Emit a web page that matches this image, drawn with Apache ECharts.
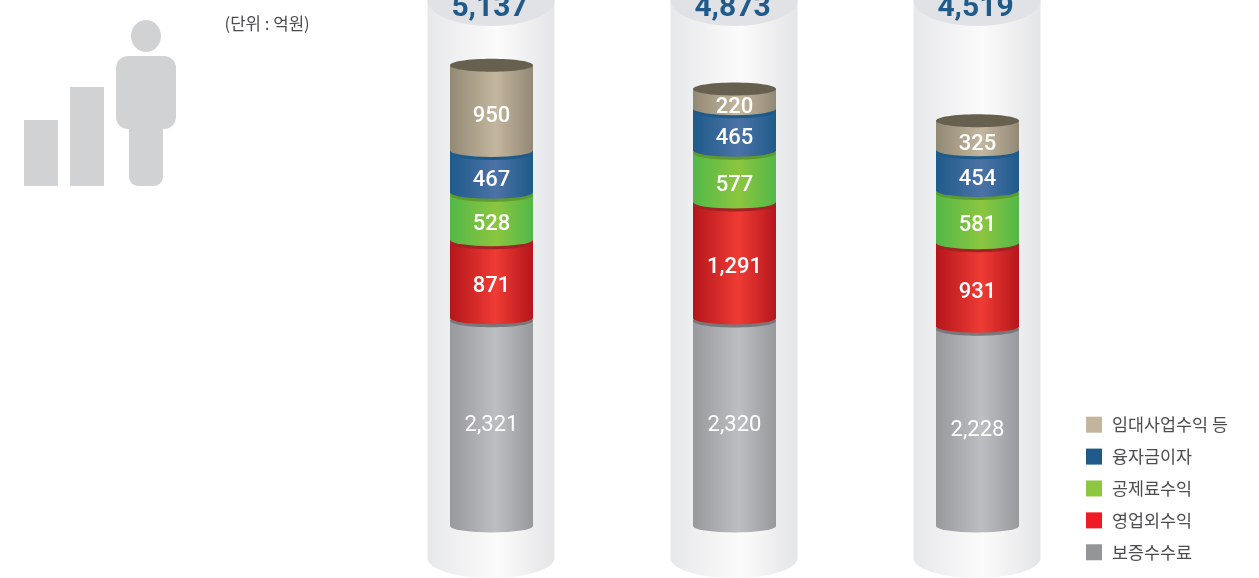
<!DOCTYPE html>
<html>
<head>
<meta charset="utf-8">
<title>수익 구성</title>
<script src="https://cdn.jsdelivr.net/npm/echarts@6/dist/echarts.min.js"></script>
<style>
  html, body { margin: 0; padding: 0; background: #fff; }
  #chart { width: 1259px; height: 578px; }
</style>
</head>
<body>
<div id="chart"></div>
<script>
const years = ['2017', '2018', '2019']
const totals = [5137, 4873, 4519]
const feeIncome = [2321, 2320, 2228]
const nonOperating = [871, 1291, 931]
const mutualAid = [528, 577, 581]
const loanInterest = [467, 465, 454]
const rentalEtc = [950, 220, 325]

const layers = [
  { name: '보증수수료', values: feeIncome, legend: '#939598', side: '#98999c', mid: '#bcbec2', rim: '#77787b', labelDy: 4, weight: 400 },
  { name: '영업외수익', values: nonOperating, legend: '#ed1c24', side: '#b5161b', mid: '#ef3b34', rim: '#a32226', labelDy: 8, weight: 500 },
  { name: '공제료수익', values: mutualAid, legend: '#8dc63f', side: '#52b848', mid: '#8cc63f', rim: '#5f9a2c', labelDy: 9, weight: 500 },
  { name: '융자금이자', values: loanInterest, legend: '#1f5a8a', side: '#1e5b8a', mid: '#4c72a6', rim: '#1e5b8a', labelDy: 9, weight: 500 },
  { name: '임대사업수익 등', values: rentalEtc, legend: '#c2b59b', side: '#928975', mid: '#c4b69e', rim: '#67604f', labelDy: 9, weight: 500 }
]

const CYL_W = 83
const CYL_RY = 6.5
const OUTER_W = 127
const Y_MAX = 5864

const fmt = n => n.toLocaleString('en-US')

const sideGradient = (c1, c2) => new echarts.graphic.LinearGradient(0, 0, 1, 0, [
  { offset: 0, color: c1 },
  { offset: 0.55, color: c2 },
  { offset: 1, color: c1 }
])

const chart = echarts.init(document.getElementById('chart'))

// 바깥쪽 큰 원통
const renderOuter = (params, api) => {
  const cx = api.coord([api.value(0), 0])[0] - 0.5
  const topY = api.coord([api.value(0), Y_MAX])[1]
  const botY = api.coord([api.value(0), 0])[1] + 32
  const l = cx - OUTER_W / 2
  const r = cx + OUTER_W / 2
  return {
    type: 'group',
    children: [
      {
        type: 'path',
        shape: {
          pathData: `M${l} ${topY}L${r} ${topY}L${r} ${botY}` +
            `A${OUTER_W / 2} 20 0 0 1 ${l} ${botY}Z`
        },
        style: {
          fill: new echarts.graphic.LinearGradient(0, 0, 1, 0, [
            { offset: 0, color: '#e7e8ea' },
            { offset: 0.55, color: '#fbfbfb' },
            { offset: 1, color: '#e4e5e7' }
          ])
        }
      },
      {
        type: 'ellipse',
        shape: { cx, cy: topY, rx: OUTER_W / 2, ry: 26 },
        style: { fill: '#e0e2e5' }
      },
      {
        type: 'text',
        style: {
          x: cx - 1.5,
          y: topY + 8,
          text: fmt(api.value(1)),
          align: 'center',
          verticalAlign: 'middle',
          fill: '#1f5a8a',
          font: 'bold 30px Roboto'
        }
      }
    ]
  }
}

const renderLayer = (layer, isTop) => (params, api) => {
  const i = api.value(0)
  const start = api.coord([i, api.value(1)])
  const end = api.coord([i, api.value(2)])
  const cx = start[0]
  const l = cx - CYL_W / 2
  const r = cx + CYL_W / 2
  const children = [
    {
      type: 'path',
      shape: {
        pathData: `M${l} ${end[1]}L${r} ${end[1]}L${r} ${start[1]}` +
          `A${CYL_W / 2} ${CYL_RY} 0 0 1 ${l} ${start[1]}Z`
      },
      style: { fill: sideGradient(layer.side, layer.mid) }
    },
    {
      type: 'ellipse',
      shape: { cx, cy: end[1] + (isTop ? 0 : 3), rx: CYL_W / 2, ry: CYL_RY },
      style: { fill: layer.rim }
    },
    {
      type: 'text',
      style: {
        x: cx,
        y: (start[1] + end[1]) / 2 + layer.labelDy,
        text: fmt(api.value(3)),
        align: 'center',
        verticalAlign: 'middle',
        fill: '#fff',
        font: `${layer.weight} 22px Roboto`
      }
    }
  ]
  return { type: 'group', children }
}

const running = years.map(() => 0)
const layerSeries = layers.map((layer, n) => {
  const data = layer.values.map((v, i) => {
    const row = [i, running[i], running[i] + v, v]
    running[i] += v
    return row
  })
  return {
    name: layer.name,
    type: 'custom',
    z: 3 + n,
    itemStyle: { color: layer.legend },
    renderItem: renderLayer(layer, n === layers.length - 1),
    encode: { x: 0, y: [1, 2] },
    data
  }
})

const option = {
  animation: false,
  textStyle: { fontFamily: '"Noto Sans CJK KR", Roboto, sans-serif' },
  grid: { left: 370, width: 729, top: 0, bottom: 52 },
  xAxis: {
    type: 'category',
    data: years,
    axisLine: { show: false },
    axisTick: { show: false },
    axisLabel: {
      fontFamily: 'Roboto',
      fontSize: 22,
      color: '#333',
      margin: 24
    }
  },
  yAxis: {
    type: 'value',
    min: 0,
    max: Y_MAX,
    show: false,
    splitLine: { show: false }
  },
  legend: {
    orient: 'vertical',
    left: 1086,
    top: 416,
    padding: 0,
    itemWidth: 16,
    itemHeight: 16,
    itemGap: 14.5,
    icon: 'rect',
    selectedMode: false,
    data: layers.map(d => d.name).reverse(),
    textStyle: {
      fontFamily: '"Noto Sans CJK KR"',
      fontSize: 17.4,
      color: '#4d4d4f',
      padding: [0, 0, 0, 5]
    }
  },
  graphic: [
    { type: 'rect', shape: { x: 24, y: 120, width: 34, height: 66 }, style: { fill: '#d1d2d4' } },
    { type: 'rect', shape: { x: 70, y: 87, width: 34, height: 99 }, style: { fill: '#d1d2d4' } },
    { type: 'ellipse', shape: { cx: 146, cy: 36, rx: 15, ry: 16 }, style: { fill: '#d1d2d4' } },
    { type: 'rect', shape: { x: 116, y: 56, width: 60, height: 73, r: 12 }, style: { fill: '#d1d2d4' } },
    { type: 'rect', shape: { x: 129, y: 120, width: 34, height: 66, r: 9 }, style: { fill: '#d1d2d4' } },
    {
      type: 'text',
      left: 224.5,
      top: 15.5,
      style: { text: '(단위 : 억원)', fill: '#4d4d4f', font: '16.8px "Noto Sans CJK KR"' }
    }
  ],
  series: [
    {
      type: 'custom',
      z: 1,
      silent: true,
      renderItem: renderOuter,
      encode: { x: 0, y: 1 },
      data: totals.map((v, i) => [i, v])
    },
    ...layerSeries
  ]
}

chart.setOption(option)
</script>
</body>
</html>
